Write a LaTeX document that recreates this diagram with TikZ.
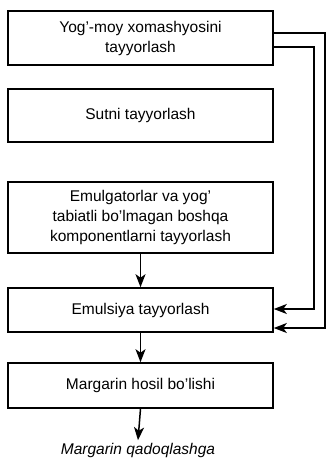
\documentclass[tikz,border=0pt]{standalone}
\usepackage{fontspec}
\setmainfont{Liberation Sans}
\usetikzlibrary{arrows.meta}
\begin{document}
\begin{tikzpicture}[x=1pt,y=-1pt,
  box/.style={draw, line width=1.6pt, minimum width=265pt, align=center, inner sep=0pt,
    font=\fontsize{15.5}{20}\selectfont},
  arr/.style={-{Stealth[length=13pt,width=10pt,inset=3.5pt]}, line width=1.5pt},
  lnk/.style={line width=1.5pt}]
\useasboundingbox (0,0) rectangle (329,460);
\node[box, minimum height=54pt] (b1) at (140.5,38) {Yog'-moy xomashyosini\\tayyorlash};
\node[box, minimum height=53pt] (b2) at (140.5,115.5) {Sutni tayyorlash};
\node[box, minimum height=71pt] (b3) at (140.5,217.5) {Emulgatorlar va yog'\\tabiatli bo'lmagan boshqa\\komponentlarni tayyorlash};
\node[box, minimum height=44pt] (b4) at (140.5,310) {Emulsiya tayyorlash};
\node[box, minimum height=45pt] (b5) at (140.5,385.5) {Margarin hosil bo'lishi};
\node[font=\fontsize{15.5}{18}\itshape] (t) at (138,450) {Margarin qadoqlashga};
\coordinate (c1) at (325,33);
\coordinate (c2) at (314,47);
\coordinate (d1) at (325,328);
\coordinate (d2) at (314,309);
\draw[arr] (b3.south) -- (b4.north);
\draw[arr] (b4.south) -- (b5.north);
\draw[arr] (b5.south) -- ([yshift=-1pt]t.north);
\draw[arr] (b1.east |- c1) -- (c1) -- (d1) -- (b4.east |- d1);
\draw[arr] (b1.east |- c2) -- (c2) -- (d2) -- (b4.east |- d2);
\end{tikzpicture}
\end{document}
